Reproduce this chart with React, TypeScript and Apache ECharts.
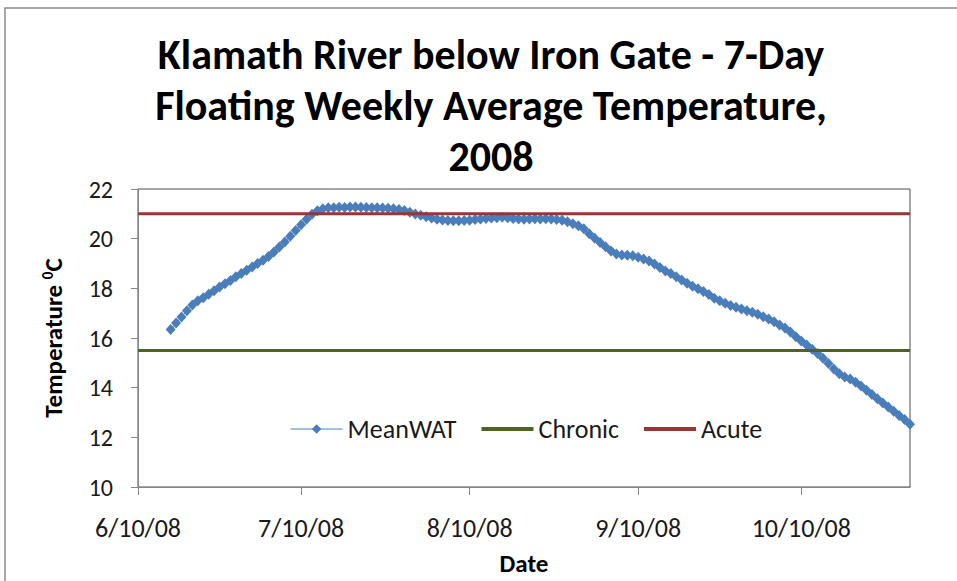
import React, { useEffect, useRef } from "react";
import * as echarts from "echarts";

// Axis categories: one per day, 6/10/08 .. 10/30/08
const startDay = new Date(2008, 5, 10);
const dayCount = 143;
const dates: string[] = [];
for (let i = 0; i < dayCount; i++) {
  const d = new Date(startDay.getFullYear(), startDay.getMonth(), startDay.getDate() + i);
  dates.push(`${d.getMonth() + 1}/${d.getDate()}/08`);
}

// MeanWAT values, starting 6/16/08 (index 6)
const meanWATStart = 6;
const meanWAT: number[] = [
  16.34, 16.6, 16.85, 17.1, 17.33, 17.5, 17.62, 17.76, 17.9, 18.05,
  18.18, 18.32, 18.47, 18.6, 18.73, 18.86, 19.0, 19.13, 19.28, 19.46,
  19.66, 19.87, 20.1, 20.33, 20.56, 20.78, 20.98, 21.12, 21.2, 21.24,
  21.25, 21.27, 21.26, 21.28, 21.28, 21.27, 21.26, 21.25, 21.24, 21.23,
  21.22, 21.2, 21.17, 21.13, 21.06, 20.99, 20.94, 20.88, 20.83, 20.78,
  20.75, 20.73, 20.72, 20.72, 20.73, 20.74, 20.77, 20.79, 20.81, 20.83,
  20.84, 20.86, 20.84, 20.81, 20.79, 20.78, 20.79, 20.8, 20.79, 20.8,
  20.79, 20.77, 20.74, 20.68, 20.6, 20.52, 20.4, 20.2, 20.02, 19.85,
  19.67, 19.5, 19.38, 19.34, 19.33, 19.31, 19.25, 19.18, 19.1, 18.98,
  18.84, 18.7, 18.6, 18.47, 18.34, 18.2, 18.08, 17.98, 17.87, 17.75,
  17.6, 17.5, 17.4, 17.31, 17.24, 17.17, 17.1, 17.04, 16.96, 16.86,
  16.77, 16.65, 16.52, 16.4, 16.24, 16.05, 15.88, 15.72, 15.55, 15.38,
  15.18, 14.97, 14.75, 14.56, 14.43, 14.35, 14.22, 14.07, 13.9, 13.72,
  13.55, 13.38, 13.22, 13.05, 12.88, 12.72, 12.53,
];

const chronicValue = 15.5;
const acuteValue = 21.0;

const yMin = 10;
const yMax = 22;
const yInterval = 2;

const titleLines = [
  "Klamath River below Iron Gate - 7-Day",
  "Floating Weekly Average Temperature,",
  "2008",
];

const FONT = "Carlito, Lato, 'Noto Sans', sans-serif";

const isTickDate = (_i: number, v: string) => v.split("/")[1] === "10";

export default function App() {
  const ref = useRef<HTMLDivElement>(null);

  useEffect(() => {
    if (!ref.current) return;
    const chart = echarts.init(ref.current, undefined, { renderer: "svg" });
    const first = dates[0];
    const last = dates[dates.length - 1];
    chart.setOption({
      animation: false,
      backgroundColor: "#ffffff",
      textStyle: { fontFamily: FONT },
      title: {
        text: titleLines.join("\n"),
        left: 486,
        textAlign: "center",
        top: 24,
        textStyle: {
          fontFamily: FONT,
          fontSize: 42,
          fontWeight: "bold",
          lineHeight: 51,
          color: "#000000",
        },
      },
      graphic: [
        {
          type: "rect",
          shape: { x: 5, y: 8, width: 980, height: 620 },
          style: { fill: "none", stroke: "#8c8c8c", lineWidth: 1.5 },
          silent: true,
          z: -1,
        },
      ],
      legend: {
        left: 290,
        top: 416,
        padding: 0,
        itemWidth: 52,
        itemHeight: 12,
        itemGap: 23,
        textStyle: { fontFamily: FONT, fontSize: 26, color: "#1a1a1a" },
        data: [
          { name: "MeanWAT", itemStyle: { color: "#4a7ebb" }, lineStyle: { width: 1.2, color: "#4a7ebb" } },
          {
            name: "Chronic",
            itemStyle: { opacity: 0, color: "rgba(0,0,0,0)" },
            lineStyle: { width: 4, color: "#4f6228" },
          },
          {
            name: "Acute",
            itemStyle: { opacity: 0, color: "rgba(0,0,0,0)" },
            lineStyle: { width: 4, color: "#953735" },
          },
        ],
      },
      grid: {
        left: 138,
        right: 47,
        top: 189,
        bottom: 93,
        show: true,
        borderColor: "#4d4d4d",
        borderWidth: 1,
      },
      xAxis: {
        type: "category",
        data: dates,
        boundaryGap: false,
        name: "Date",
        nameLocation: "middle",
        nameGap: 64,
        nameTextStyle: { fontFamily: FONT, fontSize: 25, fontWeight: "bold", color: "#000" },
        axisLine: { lineStyle: { color: "#868686", width: 1 } },
        axisTick: { show: true, interval: isTickDate, length: 8, lineStyle: { color: "#868686" } },
        axisLabel: {
          interval: isTickDate,
          margin: 28,
          fontSize: 26,
          color: "#1a1a1a",
          fontFamily: FONT,
        },
        splitLine: { show: false },
      },
      yAxis: {
        type: "value",
        min: yMin,
        max: yMax,
        interval: yInterval,
        name: "Temperature {sup|0}C",
        nameLocation: "middle",
        nameGap: 72,
        nameRotate: 90,
        nameTextStyle: {
          fontFamily: FONT,
          fontSize: 25,
          fontWeight: "bold",
          color: "#000",
          rich: {
            sup: {
              fontFamily: FONT,
              fontSize: 15,
              fontWeight: "bold",
              color: "#000",
              padding: [0, 0, 11, 0],
            },
          },
        },
        axisLine: { show: true, lineStyle: { color: "#868686", width: 1 } },
        axisTick: { show: true, length: 7, lineStyle: { color: "#868686" } },
        axisLabel: { margin: 25, fontSize: 24, color: "#1a1a1a", fontFamily: FONT },
        splitLine: { show: false },
      },
      series: [
        {
          name: "MeanWAT",
          type: "line",
          data: meanWAT.map((v, i) => [dates[i + meanWATStart], v]),
          symbol: "diamond",
          symbolSize: [10, 11],
          showAllSymbol: true,
          itemStyle: { color: "#4a7ebb" },
          lineStyle: { color: "#4a7ebb", width: 1 },
          z: 2,
        },
        {
          name: "Chronic",
          type: "line",
          data: [
            [first, chronicValue],
            [last, chronicValue],
          ],
          symbol: "none",
          showSymbol: false,
          itemStyle: { color: "#4f6228" },
          lineStyle: { color: "#4f6228", width: 3 },
          z: 3,
        },
        {
          name: "Acute",
          type: "line",
          data: [
            [first, acuteValue],
            [last, acuteValue],
          ],
          symbol: "none",
          showSymbol: false,
          itemStyle: { color: "#953735" },
          lineStyle: { color: "#953735", width: 3 },
          z: 4,
        },
      ],
    });
    return () => chart.dispose();
  }, []);

  return (
    <div
      ref={ref}
      style={{ position: "fixed", left: 0, top: 0, width: 957, height: 581 }}
    />
  );
}
